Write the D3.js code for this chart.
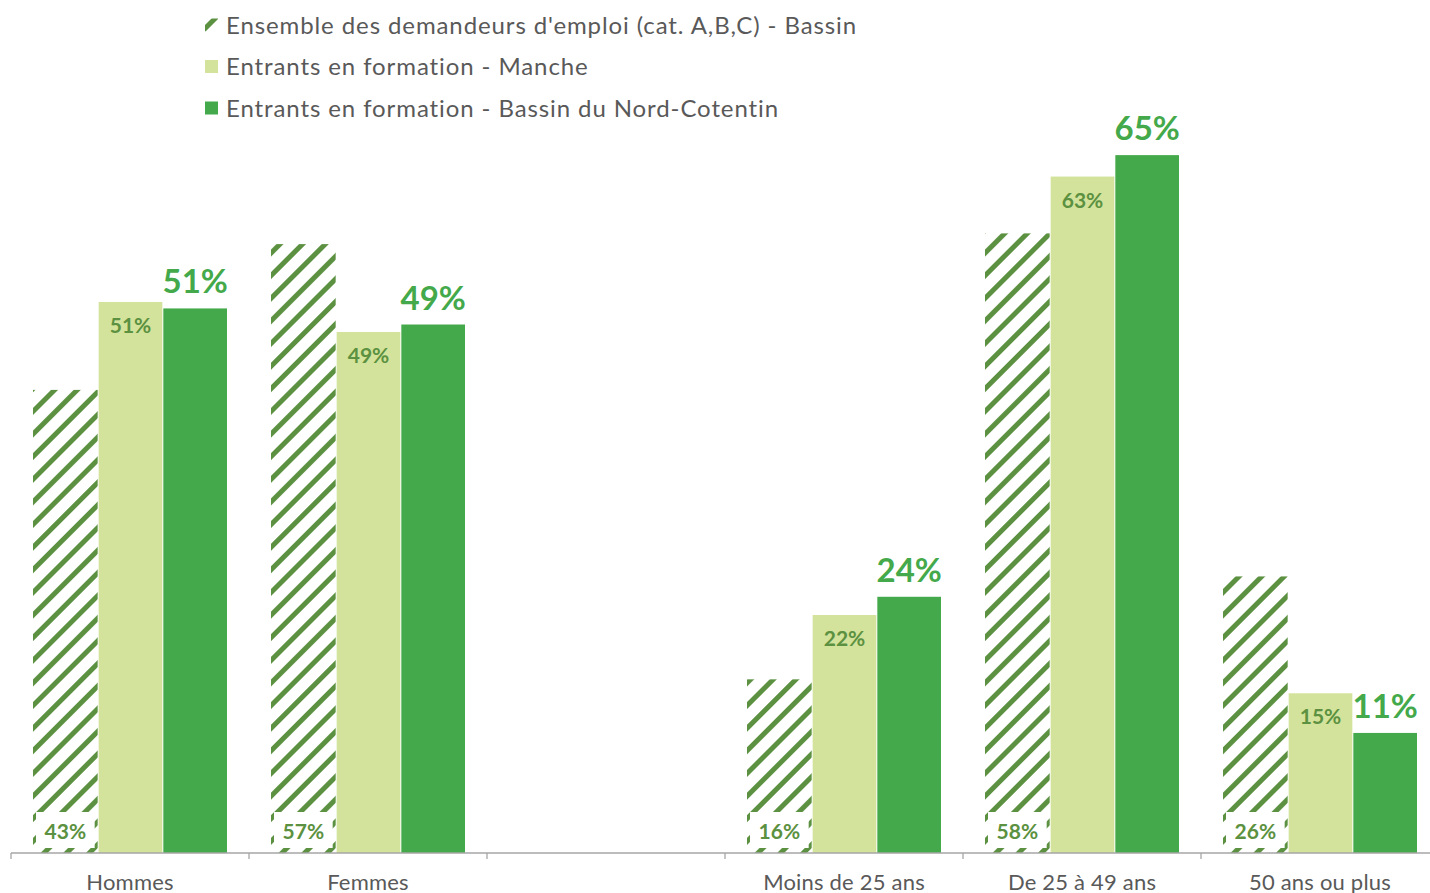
<!DOCTYPE html>
<html>
<head>
<meta charset="utf-8">
<script src="https://cdnjs.cloudflare.com/ajax/libs/d3/7.8.5/d3.min.js"></script>
<style>
  body { margin: 0; background: #fff; }
  svg { display: block; font-family: Lato, "Open Sans", sans-serif; }
</style>
</head>
<body>
<div id="chart-area"></div>
<script>
// categories (empty slot between the two groups)
const categories = ["Hommes", "Femmes", "", "Moins de 25 ans", "De 25 à 49 ans", "50 ans ou plus"]
const seriesNames = [
    "Ensemble des demandeurs d'emploi (cat. A,B,C) - Bassin",
    "Entrants en formation - Manche",
    "Entrants en formation - Bassin du Nord-Cotentin"
]
const demandeurs = [43.2, 56.8, null, 16.2, 57.8, 25.8]
const manche = [51.4, 48.6, null, 22.2, 63.1, 14.9]
const bassin = [50.8, 49.3, null, 23.9, 65.1, 11.2]

const WIDTH = 1430
const HEIGHT = 893
const BASE = 853
const COLORS = { hatch: "#5b9140", light: "#d3e39b", dark: "#44a94a", text: "#595959", axis: "#a6a6a6" }

const svg = d3.select("#chart-area").append("svg")
    .attr("width", WIDTH)
    .attr("height", HEIGHT)

// hatch pattern
const defs = svg.append("defs")
defs.append("pattern")
    .attr("id", "hatch")
    .attr("patternUnits", "userSpaceOnUse")
    .attr("width", 16)
    .attr("height", 16)
    .attr("patternTransform", "rotate(45)")
  .append("rect")
    .attr("x", 0).attr("y", 0)
    .attr("width", 5).attr("height", 16)
    .attr("fill", COLORS.hatch)

const x0 = d3.scaleBand()
    .domain(d3.range(categories.length))
    .range([11, 11 + 238 * categories.length])

const x1 = d3.scaleBand()
    .domain([0, 1, 2])
    .range([22, 216])

const y = d3.scaleLinear()
    .domain([0, 80])
    .range([BASE, BASE - 10.72 * 80])

const rows = categories.map((c, i) => ({ c, i, vals: [demandeurs[i], manche[i], bassin[i]] }))
    .filter(d => d.c !== "")

const groups = svg.selectAll("g.grp").data(rows).enter().append("g")
    .attr("class", "grp")
    .attr("transform", d => `translate(${x0(d.i)},0)`)

const fills = ["url(#hatch)", COLORS.light, COLORS.dark]

groups.selectAll("rect.bar")
    .data(d => d.vals.map((v, s) => ({ v, s })))
    .enter().append("rect")
    .attr("class", "bar")
    .attr("x", d => x1(d.s) + (d.s === 0 ? 0 : 1))
    .attr("width", d => x1.bandwidth() - (d.s === 0 ? 0 : 1))
    .attr("y", d => y(d.v))
    .attr("height", d => BASE - y(d.v))
    .attr("fill", d => fills[d.s])

const fmt = v => Math.round(v) + "%"

// labels in hatched bars (white box at the bottom)
groups.append("rect")
    .attr("x", x1(0) + 3)
    .attr("width", x1.bandwidth() - 6)
    .attr("y", BASE - 41)
    .attr("height", 36)
    .attr("fill", "#fff")
groups.append("text")
    .attr("x", x1(0) + x1.bandwidth() / 2)
    .attr("y", BASE - 14)
    .attr("text-anchor", "middle")
    .attr("font-size", "21px")
    .attr("font-weight", "bold")
    .attr("fill", COLORS.hatch)
    .text(d => fmt(d.vals[0]))

// labels inside light bars
groups.append("text")
    .attr("x", x1(1) + x1.bandwidth() / 2 + 0.5)
    .attr("y", d => y(d.vals[1]) + 31)
    .attr("text-anchor", "middle")
    .attr("font-size", "21px")
    .attr("font-weight", "bold")
    .attr("fill", COLORS.hatch)
    .text(d => fmt(d.vals[1]))

// labels above dark bars
groups.append("text")
    .attr("x", x1(2) + x1.bandwidth() / 2 + 0.5)
    .attr("y", d => y(d.vals[2]) - 15)
    .attr("text-anchor", "middle")
    .attr("font-size", "33px")
    .attr("font-weight", "bold")
    .attr("fill", COLORS.dark)
    .text(d => fmt(d.vals[2]))

// X axis
const xAxis = svg.append("g")
    .attr("transform", `translate(0, ${BASE})`)
xAxis.append("line")
    .attr("x1", 11).attr("x2", WIDTH)
    .attr("stroke", COLORS.axis).attr("stroke-width", 1.3)
xAxis.selectAll("line.tick")
    .data(d3.range(categories.length))
    .enter().append("line")
    .attr("class", "tick")
    .attr("x1", d => x0(d)).attr("x2", d => x0(d))
    .attr("y1", 0).attr("y2", 6)
    .attr("stroke", COLORS.axis).attr("stroke-width", 1.3)
xAxis.selectAll("text")
    .data(categories)
    .enter().append("text")
    .attr("x", (d, i) => x0(i) + x0.bandwidth() / 2)
    .attr("y", 37)
    .attr("text-anchor", "middle")
    .attr("font-size", "22px")
    .attr("letter-spacing", "0.2px")
    .attr("fill", COLORS.text)
    .text(d => d)

// Legend
const legend = svg.append("g")
    .attr("transform", "translate(205, 0)")
const legendRows = legend.selectAll("g").data(seriesNames).enter().append("g")
    .attr("transform", (d, i) => `translate(0, ${25 + i * 41.5})`)
legendRows.append("rect")
    .attr("x", 0).attr("y", -6.5)
    .attr("width", 13).attr("height", 13)
    .attr("fill", (d, i) => fills[i])
legendRows.append("text")
    .attr("x", 21)
    .attr("y", 8.5)
    .attr("font-size", "24px")
    .attr("letter-spacing", "0.9px")
    .attr("fill", COLORS.text)
    .text(d => d)
</script>
</body>
</html>
